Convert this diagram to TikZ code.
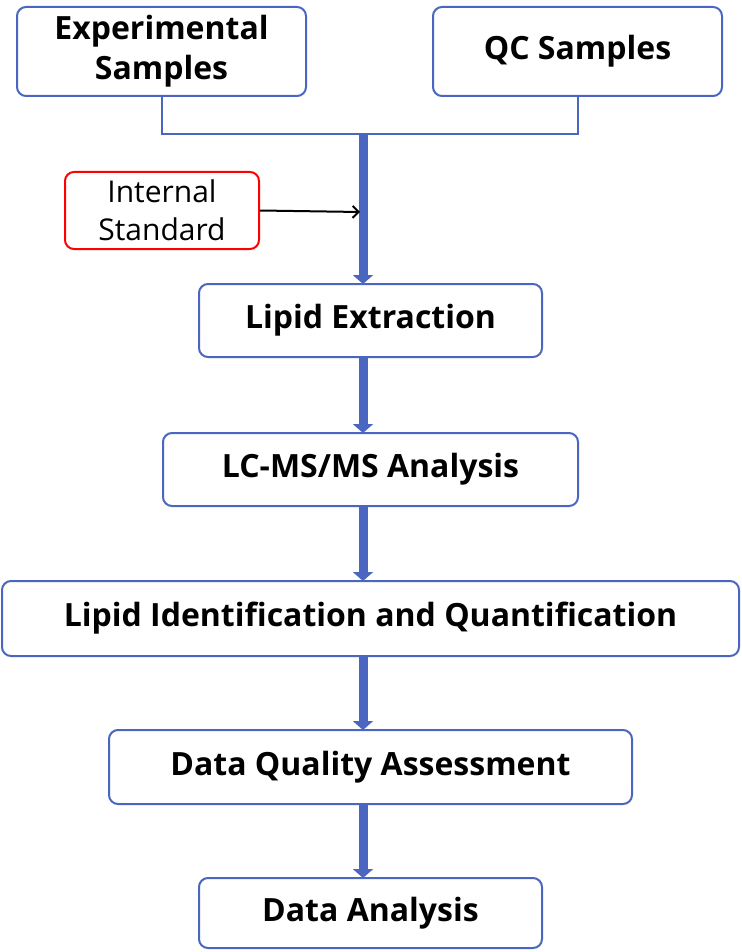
\documentclass[tikz,border=0pt]{standalone}
\usepackage{fontspec}
\setmainfont{Open Sans}[BoldFont={Open Sans Bold}]
\usetikzlibrary{arrows.meta}
\definecolor{bb}{HTML}{4A66C0}
\begin{document}
\begin{tikzpicture}[x=1pt,y=-1pt,
 box/.style={draw=bb,line width=2pt,rounded corners=9pt,font=\bfseries\fontsize{32}{40}\selectfont,align=center,inner sep=0pt},
 flow/.style={draw=bb,line width=9pt,-{Triangle[width=20pt,length=9pt]},shorten >=-1pt}]
\useasboundingbox (0,0) rectangle (741,952);
\node[box,minimum width=289pt,minimum height=89pt] (exp) at (161.5,51.5) {Experimental\\Samples};
\node[box,minimum width=289pt,minimum height=89pt] (qc) at (577.5,51.5) {QC Samples};
\node[draw=red,line width=2pt,rounded corners=9pt,minimum width=194pt,minimum height=77pt,align=center,inner sep=0pt,font=\fontsize{30}{38}\selectfont] (is) at (162,210.5) {Internal\\Standard};
\node[box,minimum width=343pt,minimum height=73pt] (le) at (370.5,320.5) {Lipid Extraction};
\node[box,minimum width=415pt,minimum height=73pt] (lc) at (370.5,469.5) {LC-MS/MS Analysis};
\node[box,minimum width=737pt,minimum height=75pt] (li) at (370.5,618.5) {Lipid Identification and Quantification};
\node[box,minimum width=523pt,minimum height=74pt] (dq) at (370.5,767) {Data Quality Assessment};
\node[box,minimum width=343pt,minimum height=70pt] (da) at (370.5,913) {Data Analysis};
\coordinate (j) at (363,134);
\coordinate (ia) at (360,212);
\draw[bb,line width=2pt] (exp.south) |- (j) -| (qc.south);
\draw[flow] (j) -- (j |- le.north);
\draw[flow] (j |- le.south) -- (j |- lc.north);
\draw[flow] (j |- lc.south) -- (j |- li.north);
\draw[flow] (j |- li.south) -- (j |- dq.north);
\draw[flow] (j |- dq.south) -- (j |- da.north);
\draw[line width=2pt,-{Straight Barb[length=6pt,width=12pt]}] (is.east) -- (ia);
\end{tikzpicture}
\end{document}
